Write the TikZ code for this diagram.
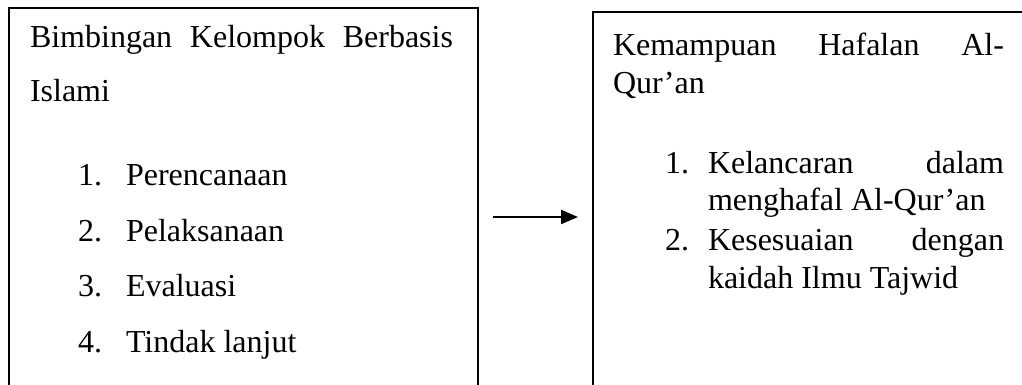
\documentclass[tikz,border=0pt]{standalone}
\usepackage{fontspec}
\setmainfont{Liberation Serif}
\usetikzlibrary{arrows.meta}
\tikzset{
  txt/.style={anchor=base west, inner sep=0pt, outer sep=0pt, font=\fontsize{32}{38}\selectfont},
  frame/.style={line width=2pt, black},
  link/.style={line width=2.2pt, -{Triangle[length=17pt,width=14pt]}}
}
\begin{document}
\begin{tikzpicture}[x=1pt, y=-1pt]
\useasboundingbox (0,0) rectangle (1022,385);
% left frame (open at the bottom)
\draw[frame] (9,385) -- (9,8) -- (478,8) -- (478,385);
% right frame (open at the bottom and right)
\draw[frame] (593,385) -- (593,12) -- (1022,12);

% left box contents
\node[txt] (lt1) at (30,48) {\makebox[423pt][s]{Bimbingan Kelompok Berbasis}};
\node[txt] (lt2) at (30,102) {Islami};
\node[txt] (ln1) at (78,185) {1.};
\node[txt] (li1) at (126,185) {Perencanaan};
\node[txt] (ln2) at (78,241) {2.};
\node[txt] (li2) at (126,241) {Pelaksanaan};
\node[txt] (ln3) at (78,296) {3.};
\node[txt] (li3) at (126,296) {Evaluasi};
\node[txt] (ln4) at (78,352) {4.};
\node[txt] (li4) at (126,352) {Tindak lanjut};

% right box contents
\node[txt] (rt1) at (613,56) {\makebox[391pt][s]{Kemampuan Hafalan Al-}};
\node[txt] (rt2) at (613,94) {Qur’an};
\node[txt] (rn1) at (665,173) {1.};
\node[txt] (ri1) at (708,173) {\makebox[296pt][s]{Kelancaran dalam}};
\node[txt] (ri1b) at (708,210) {menghafal Al-Qur’an};
\node[txt] (rn2) at (665,250) {2.};
\node[txt] (ri2) at (708,250) {\makebox[296pt][s]{Kesesuaian dengan}};
\node[txt] (ri2b) at (708,288) {kaidah Ilmu Tajwid};

% connector between the two boxes
\coordinate (from) at (493,217);
\coordinate (to) at (578,217);
\draw[link] (from) -- (to);
\end{tikzpicture}
\end{document}
